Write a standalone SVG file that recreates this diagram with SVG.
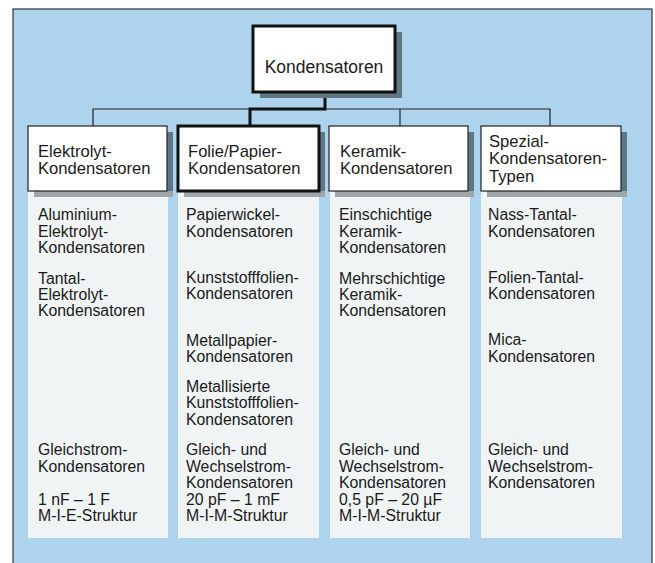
<svg xmlns="http://www.w3.org/2000/svg" width="655" height="563" viewBox="0 0 655 563">
<defs>
<style>
text{font-family:"Liberation Sans",Arial,sans-serif;fill:#1a1a1a}
.h{font-size:16.6px}
.hr{font-size:17.5px}
.t{font-size:15.8px}
.box{fill:#ffffff;stroke:#222;stroke-width:1.2}
.boxb{fill:#ffffff;stroke:#111;stroke-width:3}
.sh{fill:#5f7783}
.shb{fill:#9ea6aa}
.panel{fill:#f5f6f5;fill-opacity:0.92}
.thin{fill:none;stroke:#222;stroke-width:1.2}
.thick{fill:none;stroke:#111;stroke-width:3}
</style>
</defs>
<rect x="0" y="0" width="655" height="563" fill="#ffffff"/>
<rect x="13" y="9" width="639" height="560" fill="#add4ec" stroke="#333" stroke-width="1.2"/>

<g id="connectors">
<path class="thin" d="M93 126V109H550V126M400 109V126"/>
<path class="thick" d="M325 92V109H250V126"/>
</g>

<g id="root">
<rect class="sh" x="260" y="32" width="142" height="66"/>
<rect class="boxb" x="253" y="26" width="142" height="66"/>
<text class="hr" x="324" y="73" text-anchor="middle">Kondensatoren</text>
</g>

<g id="col1">
<rect class="panel" x="28" y="191" width="140" height="347"/>
<rect class="sh" x="34" y="132" width="139" height="65"/>
<rect class="shb" x="34" y="191" width="139" height="6"/>
<rect class="box" x="28" y="126" width="139" height="65"/>
<text class="h" x="38" y="156.5">Elektrolyt-</text>
<text class="h" x="38" y="174">Kondensatoren</text>
<text class="t" x="38" y="220">Aluminium-</text>
<text class="t" x="38" y="237">Elektrolyt-</text>
<text class="t" x="38" y="253">Kondensatoren</text>
<text class="t" x="38" y="284">Tantal-</text>
<text class="t" x="38" y="300">Elektrolyt-</text>
<text class="t" x="38" y="316">Kondensatoren</text>
<text class="t" x="38" y="455">Gleichstrom-</text>
<text class="t" x="38" y="472">Kondensatoren</text>
<text class="t" x="38" y="505">1 nF – 1 F</text>
<text class="t" x="38" y="521">M-I-E-Struktur</text>
</g>

<g id="col2">
<rect class="panel" x="178" y="191" width="141" height="347"/>
<rect class="sh" x="184" y="132" width="141" height="65"/>
<rect class="shb" x="184" y="191" width="141" height="6"/>
<rect class="boxb" x="178" y="126" width="141" height="65"/>
<text class="h" x="188" y="156.5">Folie/Papier-</text>
<text class="h" x="188" y="174">Kondensatoren</text>
<text class="t" x="186" y="220">Papierwickel-</text>
<text class="t" x="186" y="237">Kondensatoren</text>
<text class="t" x="186" y="283">Kunststofffolien-</text>
<text class="t" x="186" y="299">Kondensatoren</text>
<text class="t" x="186" y="346">Metallpapier-</text>
<text class="t" x="186" y="362">Kondensatoren</text>
<text class="t" x="186" y="392">Metallisierte</text>
<text class="t" x="186" y="408">Kunststofffolien-</text>
<text class="t" x="186" y="425">Kondensatoren</text>
<text class="t" x="186" y="455">Gleich- und</text>
<text class="t" x="186" y="472">Wechselstrom-</text>
<text class="t" x="186" y="488">Kondensatoren</text>
<text class="t" x="186" y="505">20 pF – 1 mF</text>
<text class="t" x="186" y="521">M-I-M-Struktur</text>
</g>

<g id="col3">
<rect class="panel" x="330" y="191" width="140" height="347"/>
<rect class="sh" x="335" y="132" width="139" height="65"/>
<rect class="shb" x="335" y="191" width="139" height="6"/>
<rect class="box" x="329" y="126" width="139" height="65"/>
<text class="h" x="340" y="156.5">Keramik-</text>
<text class="h" x="340" y="174">Kondensatoren</text>
<text class="t" x="339" y="220">Einschichtige</text>
<text class="t" x="339" y="237">Keramik-</text>
<text class="t" x="339" y="253">Kondensatoren</text>
<text class="t" x="339" y="284">Mehrschichtige</text>
<text class="t" x="339" y="300">Keramik-</text>
<text class="t" x="339" y="316">Kondensatoren</text>
<text class="t" x="339" y="455">Gleich- und</text>
<text class="t" x="339" y="472">Wechselstrom-</text>
<text class="t" x="339" y="488">Kondensatoren</text>
<text class="t" x="339" y="505">0,5 pF – 20 µF</text>
<text class="t" x="339" y="521">M-I-M-Struktur</text>
</g>

<g id="col4">
<rect class="panel" x="481" y="191" width="141" height="347"/>
<rect class="sh" x="487" y="132" width="140" height="65"/>
<rect class="shb" x="487" y="191" width="140" height="6"/>
<rect class="box" x="481" y="126" width="140" height="65"/>
<text class="h" x="489" y="146.5">Spezial-</text>
<text class="h" x="489" y="164">Kondensatoren-</text>
<text class="h" x="489" y="181.5">Typen</text>
<text class="t" x="488" y="220">Nass-Tantal-</text>
<text class="t" x="488" y="237">Kondensatoren</text>
<text class="t" x="488" y="283">Folien-Tantal-</text>
<text class="t" x="488" y="299">Kondensatoren</text>
<text class="t" x="488" y="345">Mica-</text>
<text class="t" x="488" y="362">Kondensatoren</text>
<text class="t" x="488" y="455">Gleich- und</text>
<text class="t" x="488" y="472">Wechselstrom-</text>
<text class="t" x="488" y="488">Kondensatoren</text>
</g>
</svg>
